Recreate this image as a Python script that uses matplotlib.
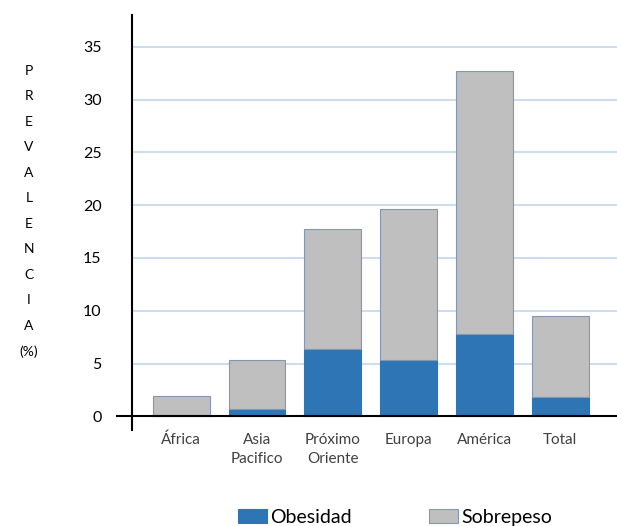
import matplotlib
matplotlib.use("Agg")
from matplotlib import pyplot as plt
import numpy as np

regiones = ["África", "Asia\nPacifico", "Próximo\nOriente", "Europa", "América", "Total"]
obesidad = [0.1, 0.7, 6.4, 5.3, 7.8, 1.8]
sobrepeso = [1.8, 4.6, 11.3, 14.3, 24.9, 7.7]
yticks = [0, 5, 10, 15, 20, 25, 30, 35]

azul = "#2e75b6"
gris = "#bfbfbf"
borde = "#8497b0"
rejilla = "#c5d6ee"
texto = "#404040"

plt.rcParams["font.family"] = ["Lato", "DejaVu Sans"]

fig = plt.figure(figsize=(6.17, 5.26), dpi=100)
ax = fig.add_axes([0.214, 0.1825, 0.786, 0.7885])

x = np.arange(len(regiones))
ax.bar(x, obesidad, width=0.75, color=azul, edgecolor=azul, linewidth=0.8,
       label="Obesidad", zorder=3)
ax.bar(x, sobrepeso, width=0.75, bottom=obesidad, color=gris, edgecolor=borde,
       linewidth=0.8, label="Sobrepeso", zorder=3)

ax.set_xlim(-0.65, 5.75)
ax.set_ylim(-1.3, 38)
ax.set_yticks(yticks)
ax.set_xticks(x)
ax.set_xticklabels(regiones, fontsize=11, color=texto, linespacing=1.45, va="top")
ax.tick_params(axis="y", length=0, pad=22, labelsize=11.5, labelcolor="black")
ax.tick_params(axis="x", length=0, pad=2)

for v in yticks[1:]:
    ax.axhline(v, color=rejilla, linewidth=1.2, zorder=1)

for s in ["top", "right", "bottom"]:
    ax.spines[s].set_visible(False)
ax.spines["left"].set_linewidth(1.5)
ax.spines["left"].set_color("black")

# eje x en cero, sobresale un poco a la izquierda
ax.plot([-0.03, 1], [0, 0], transform=ax.get_yaxis_transform(), color="black",
        linewidth=1.5, clip_on=False, zorder=4)

fig.text(0.047, 0.598, "\n".join(list("PREVALENCIA") + ["(%)"]), ha="center",
         va="center", fontsize=10, linespacing=2.35, color="black")

ax.legend(loc="center", bbox_to_anchor=(0.542, -0.21), ncol=2, frameon=False,
          fontsize=14, handlelength=1.5, handleheight=0.8, handletextpad=0.15,
          columnspacing=4.0, labelcolor="black")

fig.savefig("out.png", dpi=100)
